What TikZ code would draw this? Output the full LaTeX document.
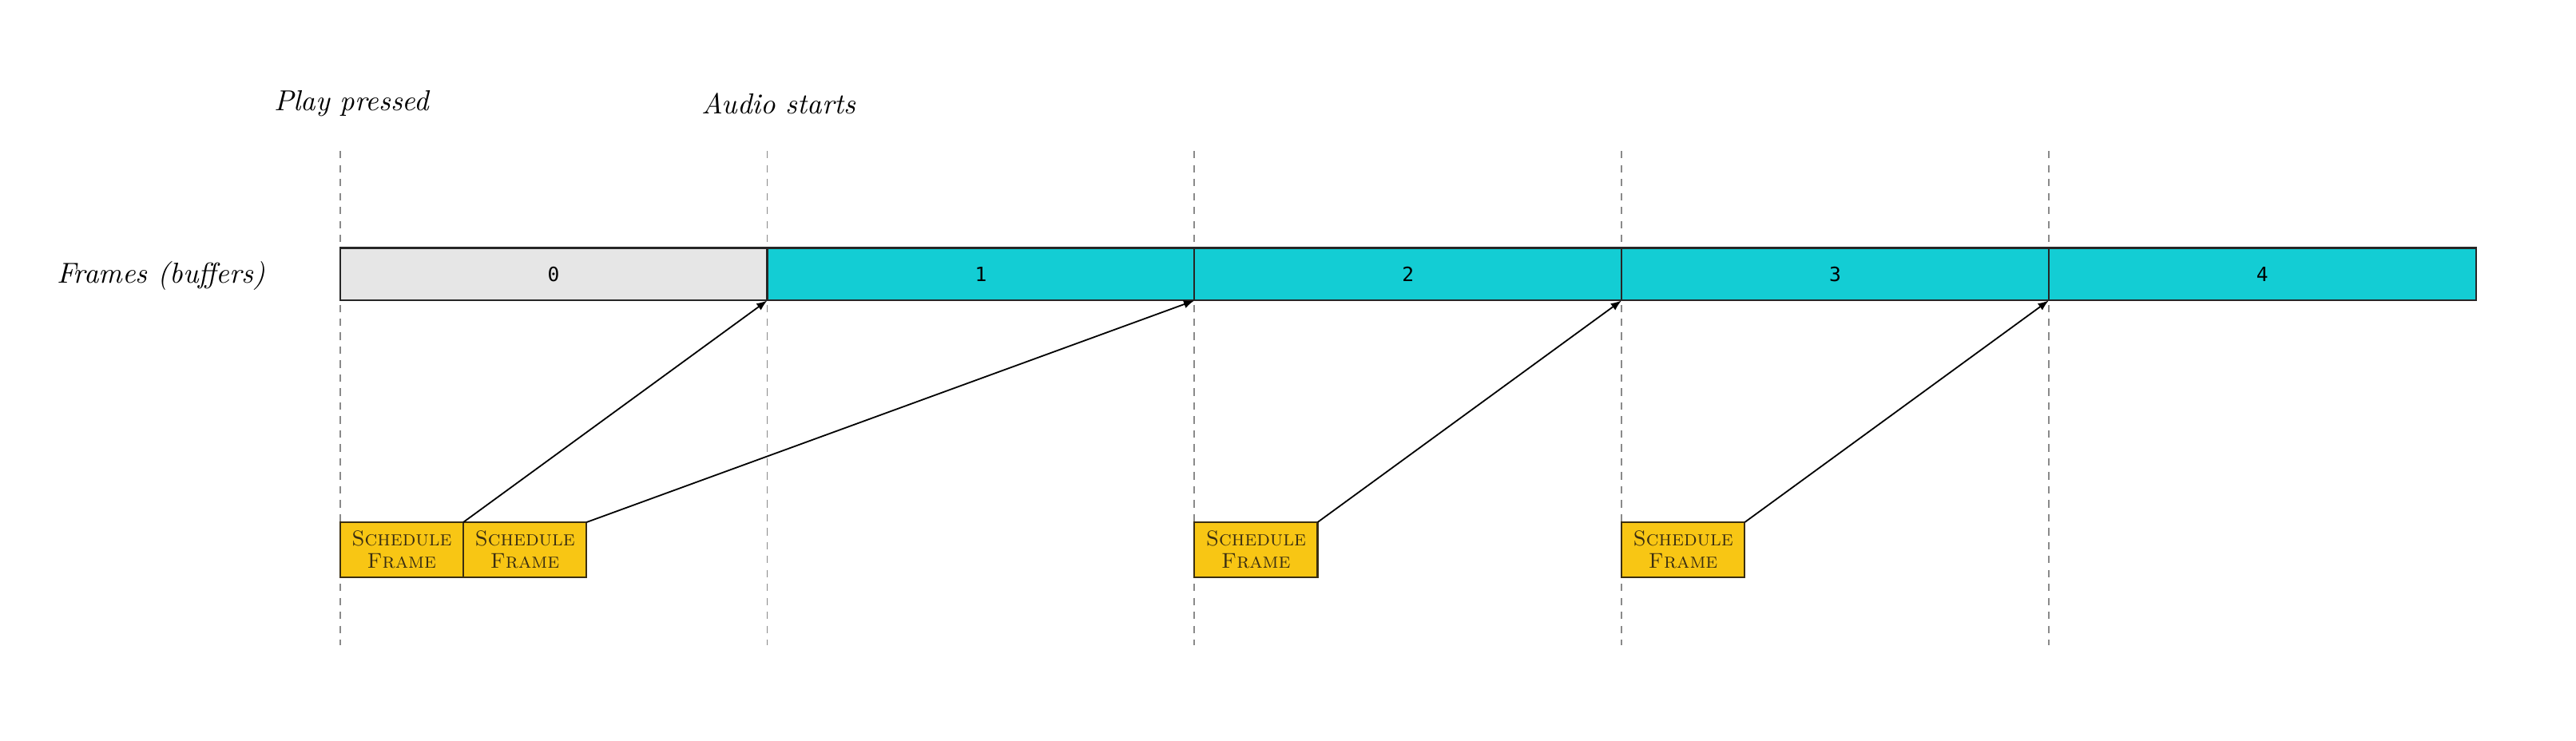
\documentclass[tikz,border=0pt]{standalone}
\usepackage{fontspec}
\newfontfamily\monofont{DejaVu Sans Mono}
\usepackage{tikz}
\usetikzlibrary{positioning,arrows.meta}
\usepackage{xcolor}
\definecolor{framegray}{HTML}{E6E6E6}
\definecolor{framecyan}{HTML}{13CDD4}
\definecolor{schedyellow}{HTML}{F8C614}
\definecolor{scheddark}{HTML}{3A2E12}
\definecolor{timegray}{HTML}{8A8A8A}

\tikzset{
  framebox/.style={draw=black!85, line width=0.6pt, minimum width=52mm, minimum height=6.4mm,
    inner sep=0pt, outer sep=0pt, font=\monofont\fontsize{6.8}{8}\selectfont},
  schedbox/.style={draw=scheddark, fill=schedyellow, line width=0.6pt, minimum width=15mm,
    minimum height=6.7mm, inner sep=0pt, outer sep=0pt, align=center, text=scheddark,
    font=\fontsize{7.4}{7.8}\selectfont},
  timeline/.style={draw=timegray, line width=0.5pt, dash pattern=on 0.9mm off 0.8mm},
  eventtext/.style={font=\fontsize{10}{12}\selectfont\itshape},
  sendarrow/.style={-{Latex[length=1.3mm,width=1mm]}, line width=0.5pt}
}

\begin{document}
\begin{tikzpicture}[x=0.2mm, y=-0.2mm]
\useasboundingbox (0,0) rectangle (1568,451);

% time marks (dashed)
\coordinate (t0) at (207,92);  \coordinate (b0) at (207,393);
\coordinate (t1) at (467,92);  \coordinate (b1) at (467,393);
\coordinate (t2) at (727,92);  \coordinate (b2) at (727,393);
\coordinate (t3) at (987,92);  \coordinate (b3) at (987,393);
\coordinate (t4) at (1247,92); \coordinate (b4) at (1247,393);
\draw[timeline] (t0) -- (b0);
\draw[timeline] (t1) -- (b1);
\draw[timeline] (t2) -- (b2);
\draw[timeline] (t3) -- (b3);
\draw[timeline] (t4) -- (b4);

\node[eventtext] (play) at (214,63) {Play pressed};
\node[eventtext] (audio) at (474,63) {Audio starts};
\node[eventtext] (frames) at (98,168) {Frames (buffers)};

% frames (buffers)
\node[framebox, fill=framegray, anchor=west] (f0) at (207,167) {0};
\node[framebox, fill=framecyan, right=0pt of f0] (f1) {1};
\node[framebox, fill=framecyan, right=0pt of f1] (f2) {2};
\node[framebox, fill=framecyan, right=0pt of f2] (f3) {3};
\node[framebox, fill=framecyan, right=0pt of f3] (f4) {4};

% schedule calls
\node[schedbox, anchor=north west] (s0) at (207,318) {\textsc{Schedule}\\\textsc{Frame}};
\node[schedbox, right=0pt of s0] (s1) {\textsc{Schedule}\\\textsc{Frame}};
\node[schedbox, anchor=north west] (s2) at (727,318) {\textsc{Schedule}\\\textsc{Frame}};
\node[schedbox, anchor=north west] (s3) at (987,318) {\textsc{Schedule}\\\textsc{Frame}};

\draw[sendarrow] (s0.north east) -- (f1.south west);
\draw[sendarrow] (s1.north east) -- (f2.south west);
\draw[sendarrow] (s2.north east) -- (f3.south west);
\draw[sendarrow] (s3.north east) -- (f4.south west);
\end{tikzpicture}
\end{document}
